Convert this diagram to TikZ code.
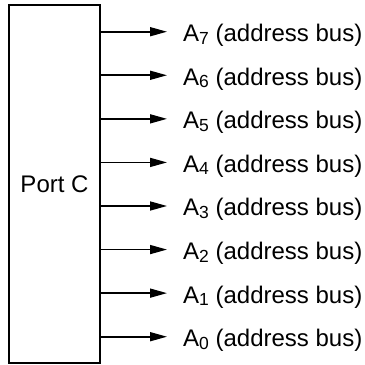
\documentclass[tikz,border=0pt]{standalone}
\usepackage{fontspec}
\setmainfont{Liberation Sans}
\usetikzlibrary{arrows.meta}
\newcommand{\busidx}[1]{\raisebox{-2.5pt}{\fontsize{17.5}{20}\selectfont #1}}
\tikzset{
  portbox/.style={draw, line width=1.8pt, minimum width=91pt, minimum height=358pt, inner sep=0pt},
  bus/.style={-{Triangle[length=17pt, width=9pt]}, line width=1.6pt},
  buslabel/.style={anchor=base west, inner sep=0pt}
}
\begin{document}
\begin{tikzpicture}[x=1pt, y=-1pt, font=\fontsize{24}{28}\selectfont]
  \useasboundingbox (0,0) rectangle (365,365); % Bildrand wie Vorlage
  \node[portbox] (port) at (54.5,184) {Port C};
  \foreach \i in {0,...,7} {
    \pgfmathsetmacro{\yy}{336.7-43.57*\i}
    \coordinate (o\i) at (167,\yy);
    \node[buslabel] (a\i) at (183,\yy+10) {A\busidx{\i} (address bus)};
    \draw[bus] (port.east |- o\i) -- (o\i);
  }
\end{tikzpicture}
\end{document}
